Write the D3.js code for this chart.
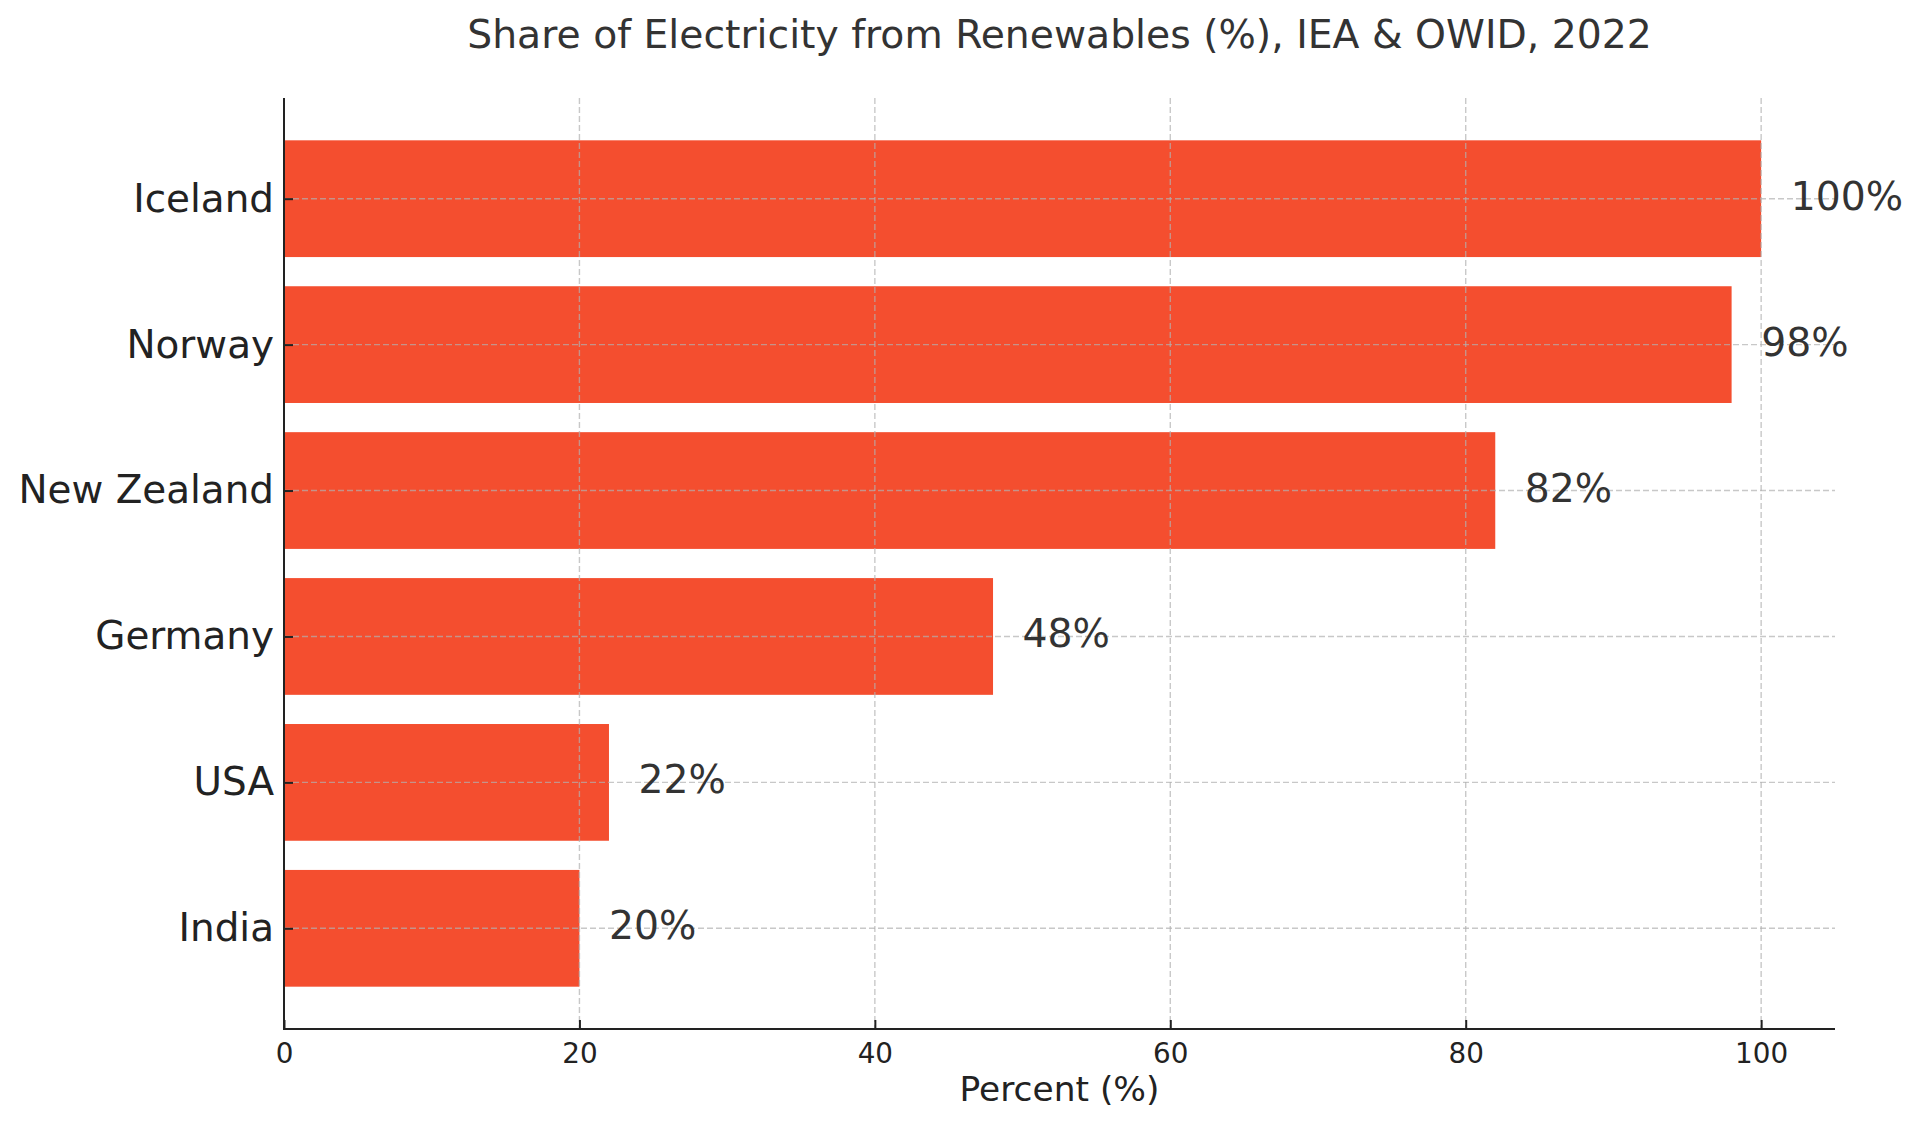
<!DOCTYPE html>
<html>
<head>
<meta charset="utf-8">
<script src="https://cdn.jsdelivr.net/npm/d3@7"></script>
<style>
  html, body { margin: 0; padding: 0; background: #fff; }
  svg { display: block; font-family: "DejaVu Sans", sans-serif; }
</style>
</head>
<body>
<script>
const countries = ["India", "USA", "Germany", "New Zealand", "Norway", "Iceland"];
const shares = [20, 22, 48, 82, 98, 100];
const xTicks = [0, 20, 40, 60, 80, 100];
const title = "Share of Electricity from Renewables (%), IEA & OWID, 2022";
const xLabel = "Percent (%)";

(function () {
const W = 1920, H = 1128;
const mLeft = 284, mRight = 1835, mTop = 98, mBottom = 1029;

const svg = d3.select("body").append("svg").attr("width", W).attr("height", H);

const x = d3.scaleLinear().domain([0, 105]).range([mLeft, mRight]);
const y = d3.scaleLinear().domain([-0.69, countries.length - 1 + 0.69]).range([mBottom, mTop]);

// bars
svg.append("g").selectAll("rect").data(countries).join("rect")
  .attr("x", x(0))
  .attr("y", (d, i) => y(i + 0.4))
  .attr("width", (d, i) => x(shares[i]) - x(0))
  .attr("height", (d, i) => y(i - 0.4) - y(i + 0.4))
  .attr("fill", "#F44E2F");

// grid (on top)
const grid = svg.append("g").attr("stroke", "#b0b0b0").attr("stroke-opacity", 0.7)
  .attr("stroke-width", 1.4).attr("stroke-dasharray", "6,3");
grid.selectAll("line.v").data(xTicks).join("line").attr("class", "v")
  .attr("x1", d => x(d)).attr("x2", d => x(d)).attr("y1", mTop).attr("y2", mBottom);
grid.selectAll("line.h").data(countries).join("line").attr("class", "h")
  .attr("x1", mLeft).attr("x2", mRight).attr("y1", (d, i) => y(i)).attr("y2", (d, i) => y(i));

// axes
const xAxis = d3.axisBottom(x).tickValues(xTicks).tickFormat(d3.format("d")).tickSize(-9).tickPadding(14);
const gx = svg.append("g").attr("transform", `translate(0,${mBottom})`).call(xAxis);
gx.select(".domain").remove();
gx.selectAll(".tick line").attr("stroke", "#222").attr("stroke-width", 2);
gx.selectAll(".tick text").attr("font-size", 27.8).attr("fill", "#222")
  .attr("font-family", "DejaVu Sans");

const yAxis = d3.axisLeft(y).tickValues(d3.range(countries.length)).tickFormat(i => countries[i]).tickSize(-9).tickPadding(10);
const gy = svg.append("g").attr("transform", `translate(${mLeft},0)`).call(yAxis);
gy.select(".domain").remove();
gy.selectAll(".tick line").attr("stroke", "#222").attr("stroke-width", 2);
gy.selectAll(".tick text").attr("font-size", 38.9).attr("fill", "#222")
  .attr("font-family", "DejaVu Sans");

// spines
svg.append("line").attr("x1", mLeft).attr("x2", mLeft).attr("y1", mTop).attr("y2", mBottom + 1)
  .attr("stroke", "#222").attr("stroke-width", 2);
svg.append("line").attr("x1", mLeft - 1).attr("x2", mRight).attr("y1", mBottom).attr("y2", mBottom)
  .attr("stroke", "#222").attr("stroke-width", 2);

// value labels
svg.append("g").selectAll("text").data(countries).join("text")
  .attr("x", (d, i) => x(shares[i] + 2))
  .attr("y", (d, i) => y(i))
  .attr("dy", "0.28em")
  .attr("font-size", 39.3)
  .attr("fill", "#333")
  .text((d, i) => shares[i] + "%");

// title
svg.append("text").attr("x", (mLeft + mRight) / 2).attr("y", 48)
  .attr("text-anchor", "middle").attr("font-size", 39.3).attr("fill", "#333").text(title);

// x label
svg.append("text").attr("x", (mLeft + mRight) / 2).attr("y", 1101)
  .attr("text-anchor", "middle").attr("font-size", 34.4).attr("fill", "#222").text(xLabel);
})();
</script>
</body>
</html>
